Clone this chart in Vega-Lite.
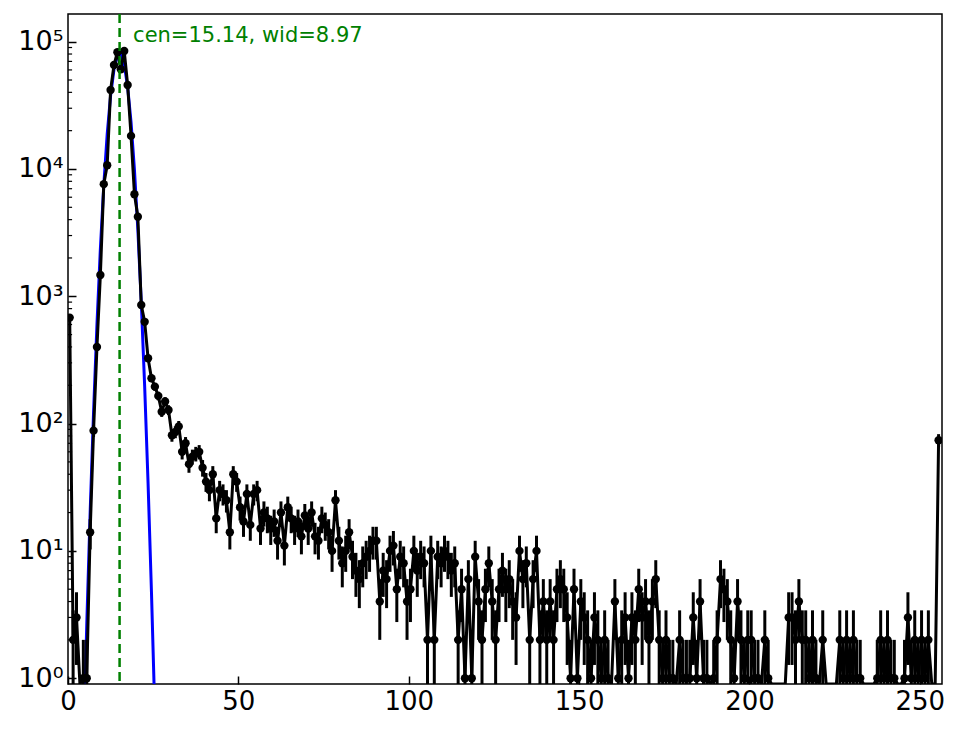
{
  "$schema": "https://vega.github.io/schema/vega-lite/v6.json",
  "width": 874,
  "height": 670,
  "autosize": "none",
  "padding": {"left": 68, "top": 14, "right": 22, "bottom": 45},
  "config": {
    "font": "DejaVu Sans",
    "view": {"stroke": "black", "strokeWidth": 1.5},
    "axis": {
      "grid": false,
      "domain": false,
      "tickSize": -8,
      "tickWidth": 1.5,
      "tickColor": "black",
      "labelColor": "black",
      "labelFontSize": 26,
      "labelFont": "DejaVu Sans",
      "labelFlush": false,
      "title": null
    },
    "axisX": {"labelPadding": 12},
    "axisY": {"labelPadding": 13, "labelFontSize": 27}
  },
  "datasets": {
    "hist": [
      {"x":0.5,"n":680,"lo":653.9,"hi":706.1},
      {"x":1.5,"n":2,"lo":0.59,"hi":3.41},
      {"x":2.5,"n":3,"lo":1.27,"hi":4.73},
      {"x":3.5,"n":0},
      {"x":4.5,"n":1,"lo":0,"hi":2},
      {"x":5.5,"n":1,"lo":0,"hi":2},
      {"x":6.5,"n":14,"lo":10.26,"hi":17.74},
      {"x":7.5,"n":88,"lo":78.62,"hi":97.38},
      {"x":8.5,"n":400,"lo":380,"hi":420},
      {"x":9.5,"n":1470,"lo":1431.66,"hi":1508.34},
      {"x":10.5,"n":7600,"lo":7512.8,"hi":7687.2},
      {"x":11.5,"n":10700,"lo":10596.6,"hi":10803.4},
      {"x":12.5,"n":41700,"lo":41495.8,"hi":41904.2},
      {"x":13.5,"n":65600,"lo":65343.9,"hi":65856.1},
      {"x":14.5,"n":82600,"lo":82312.6,"hi":82887.4},
      {"x":15.5,"n":60700,"lo":60453.6,"hi":60946.4},
      {"x":16.5,"n":84500,"lo":84209.3,"hi":84790.7},
      {"x":17.5,"n":45700,"lo":45486.2,"hi":45913.8},
      {"x":18.5,"n":18200,"lo":18065.1,"hi":18334.9},
      {"x":19.5,"n":6340,"lo":6260.4,"hi":6419.6},
      {"x":20.5,"n":4220,"lo":4155,"hi":4285},
      {"x":21.5,"n":855,"lo":825.76,"hi":884.24},
      {"x":22.5,"n":630,"lo":604.9,"hi":655.1},
      {"x":23.5,"n":326,"lo":307.94,"hi":344.06},
      {"x":24.5,"n":227,"lo":211.93,"hi":242.07},
      {"x":25.5,"n":195,"lo":181.04,"hi":208.96},
      {"x":26.5,"n":165,"lo":152.15,"hi":177.85},
      {"x":27.5,"n":124,"lo":112.86,"hi":135.14},
      {"x":28.5,"n":149,"lo":136.79,"hi":161.21},
      {"x":29.5,"n":128,"lo":116.69,"hi":139.31},
      {"x":30.5,"n":81,"lo":72,"hi":90},
      {"x":31.5,"n":86,"lo":76.73,"hi":95.27},
      {"x":32.5,"n":95,"lo":85.25,"hi":104.75},
      {"x":33.5,"n":60,"lo":52.25,"hi":67.75},
      {"x":34.5,"n":70,"lo":61.63,"hi":78.37},
      {"x":35.5,"n":48,"lo":41.07,"hi":54.93},
      {"x":36.5,"n":55,"lo":47.58,"hi":62.42},
      {"x":37.5,"n":58,"lo":50.38,"hi":65.62},
      {"x":38.5,"n":60,"lo":52.25,"hi":67.75},
      {"x":39.5,"n":45,"lo":38.29,"hi":51.71},
      {"x":40.5,"n":35,"lo":29.08,"hi":40.92},
      {"x":41.5,"n":30,"lo":24.52,"hi":35.48},
      {"x":42.5,"n":40,"lo":33.68,"hi":46.32},
      {"x":43.5,"n":18,"lo":13.76,"hi":22.24},
      {"x":44.5,"n":30,"lo":24.52,"hi":35.48},
      {"x":45.5,"n":28,"lo":22.71,"hi":33.29},
      {"x":46.5,"n":25,"lo":20,"hi":30},
      {"x":47.5,"n":14,"lo":10.26,"hi":17.74},
      {"x":48.5,"n":40,"lo":33.68,"hi":46.32},
      {"x":49.5,"n":35,"lo":29.08,"hi":40.92},
      {"x":50.5,"n":22,"lo":17.31,"hi":26.69},
      {"x":51.5,"n":17,"lo":12.88,"hi":21.12},
      {"x":52.5,"n":28,"lo":22.71,"hi":33.29},
      {"x":53.5,"n":16,"lo":12,"hi":20},
      {"x":54.5,"n":28,"lo":22.71,"hi":33.29},
      {"x":55.5,"n":30,"lo":24.52,"hi":35.48},
      {"x":56.5,"n":15,"lo":11.13,"hi":18.87},
      {"x":57.5,"n":20,"lo":15.53,"hi":24.47},
      {"x":58.5,"n":18,"lo":13.76,"hi":22.24},
      {"x":59.5,"n":15,"lo":11.13,"hi":18.87},
      {"x":60.5,"n":17,"lo":12.88,"hi":21.12},
      {"x":61.5,"n":12,"lo":8.54,"hi":15.46},
      {"x":62.5,"n":20,"lo":15.53,"hi":24.47},
      {"x":63.5,"n":11,"lo":7.68,"hi":14.32},
      {"x":64.5,"n":22,"lo":17.31,"hi":26.69},
      {"x":65.5,"n":18,"lo":13.76,"hi":22.24},
      {"x":66.5,"n":15,"lo":11.13,"hi":18.87},
      {"x":67.5,"n":17,"lo":12.88,"hi":21.12},
      {"x":68.5,"n":13,"lo":9.39,"hi":16.61},
      {"x":69.5,"n":19,"lo":14.64,"hi":23.36},
      {"x":70.5,"n":15,"lo":11.13,"hi":18.87},
      {"x":71.5,"n":20,"lo":15.53,"hi":24.47},
      {"x":72.5,"n":13,"lo":9.39,"hi":16.61},
      {"x":73.5,"n":12,"lo":8.54,"hi":15.46},
      {"x":74.5,"n":18,"lo":13.76,"hi":22.24},
      {"x":75.5,"n":16,"lo":12,"hi":20},
      {"x":76.5,"n":14,"lo":10.26,"hi":17.74},
      {"x":77.5,"n":10,"lo":6.84,"hi":13.16},
      {"x":78.5,"n":25,"lo":20,"hi":30},
      {"x":79.5,"n":12,"lo":8.54,"hi":15.46},
      {"x":80.5,"n":8,"lo":5.17,"hi":10.83},
      {"x":81.5,"n":10,"lo":6.84,"hi":13.16},
      {"x":82.5,"n":14,"lo":10.26,"hi":17.74},
      {"x":83.5,"n":9,"lo":6,"hi":12},
      {"x":84.5,"n":7,"lo":4.35,"hi":9.65},
      {"x":85.5,"n":6,"lo":3.55,"hi":8.45},
      {"x":86.5,"n":8,"lo":5.17,"hi":10.83},
      {"x":87.5,"n":9,"lo":6,"hi":12},
      {"x":88.5,"n":10,"lo":6.84,"hi":13.16},
      {"x":89.5,"n":12,"lo":8.54,"hi":15.46},
      {"x":90.5,"n":12,"lo":8.54,"hi":15.46},
      {"x":91.5,"n":4,"lo":2,"hi":6},
      {"x":92.5,"n":7,"lo":4.35,"hi":9.65},
      {"x":93.5,"n":6,"lo":3.55,"hi":8.45},
      {"x":94.5,"n":10,"lo":6.84,"hi":13.16},
      {"x":95.5,"n":11,"lo":7.68,"hi":14.32},
      {"x":96.5,"n":5,"lo":2.76,"hi":7.24},
      {"x":97.5,"n":9,"lo":6,"hi":12},
      {"x":98.5,"n":8,"lo":5.17,"hi":10.83},
      {"x":99.5,"n":4,"lo":2,"hi":6},
      {"x":100.5,"n":5,"lo":2.76,"hi":7.24},
      {"x":101.5,"n":10,"lo":6.84,"hi":13.16},
      {"x":102.5,"n":7,"lo":4.35,"hi":9.65},
      {"x":103.5,"n":9,"lo":6,"hi":12},
      {"x":104.5,"n":8,"lo":5.17,"hi":10.83},
      {"x":105.5,"n":2,"lo":0.59,"hi":3.41},
      {"x":106.5,"n":10,"lo":6.84,"hi":13.16},
      {"x":107.5,"n":2,"lo":0.59,"hi":3.41},
      {"x":108.5,"n":9,"lo":6,"hi":12},
      {"x":109.5,"n":8,"lo":5.17,"hi":10.83},
      {"x":110.5,"n":10,"lo":6.84,"hi":13.16},
      {"x":111.5,"n":9,"lo":6,"hi":12},
      {"x":112.5,"n":7,"lo":4.35,"hi":9.65},
      {"x":113.5,"n":8,"lo":5.17,"hi":10.83},
      {"x":114.5,"n":2,"lo":0.59,"hi":3.41},
      {"x":115.5,"n":5,"lo":2.76,"hi":7.24},
      {"x":116.5,"n":1,"lo":0,"hi":2},
      {"x":117.5,"n":6,"lo":3.55,"hi":8.45},
      {"x":118.5,"n":1,"lo":0,"hi":2},
      {"x":119.5,"n":9,"lo":6,"hi":12},
      {"x":120.5,"n":4,"lo":2,"hi":6},
      {"x":121.5,"n":2,"lo":0.59,"hi":3.41},
      {"x":122.5,"n":5,"lo":2.76,"hi":7.24},
      {"x":123.5,"n":8,"lo":5.17,"hi":10.83},
      {"x":124.5,"n":4,"lo":2,"hi":6},
      {"x":125.5,"n":2,"lo":0.59,"hi":3.41},
      {"x":126.5,"n":5,"lo":2.76,"hi":7.24},
      {"x":127.5,"n":7,"lo":4.35,"hi":9.65},
      {"x":128.5,"n":5,"lo":2.76,"hi":7.24},
      {"x":129.5,"n":6,"lo":3.55,"hi":8.45},
      {"x":130.5,"n":4,"lo":2,"hi":6},
      {"x":131.5,"n":3,"lo":1.27,"hi":4.73},
      {"x":132.5,"n":10,"lo":6.84,"hi":13.16},
      {"x":133.5,"n":6,"lo":3.55,"hi":8.45},
      {"x":134.5,"n":8,"lo":5.17,"hi":10.83},
      {"x":135.5,"n":2,"lo":0.59,"hi":3.41},
      {"x":136.5,"n":6,"lo":3.55,"hi":8.45},
      {"x":137.5,"n":10,"lo":6.84,"hi":13.16},
      {"x":138.5,"n":2,"lo":0.59,"hi":3.41},
      {"x":139.5,"n":4,"lo":2,"hi":6},
      {"x":140.5,"n":2,"lo":0.59,"hi":3.41},
      {"x":141.5,"n":4,"lo":2,"hi":6},
      {"x":142.5,"n":2,"lo":0.59,"hi":3.41},
      {"x":143.5,"n":5,"lo":2.76,"hi":7.24},
      {"x":144.5,"n":6,"lo":3.55,"hi":8.45},
      {"x":145.5,"n":5,"lo":2.76,"hi":7.24},
      {"x":146.5,"n":3,"lo":1.27,"hi":4.73},
      {"x":147.5,"n":1,"lo":0,"hi":2},
      {"x":148.5,"n":5,"lo":2.76,"hi":7.24},
      {"x":149.5,"n":1,"lo":0,"hi":2},
      {"x":150.5,"n":4,"lo":2,"hi":6},
      {"x":151.5,"n":3,"lo":1.27,"hi":4.73},
      {"x":152.5,"n":2,"lo":0.59,"hi":3.41},
      {"x":153.5,"n":1,"lo":0,"hi":2},
      {"x":154.5,"n":3,"lo":1.27,"hi":4.73},
      {"x":155.5,"n":2,"lo":0.59,"hi":3.41},
      {"x":156.5,"n":1,"lo":0,"hi":2},
      {"x":157.5,"n":2,"lo":0.59,"hi":3.41},
      {"x":158.5,"n":1,"lo":0,"hi":2},
      {"x":159.5,"n":0},
      {"x":160.5,"n":4,"lo":2,"hi":6},
      {"x":161.5,"n":1,"lo":0,"hi":2},
      {"x":162.5,"n":2,"lo":0.59,"hi":3.41},
      {"x":163.5,"n":3,"lo":1.27,"hi":4.73},
      {"x":164.5,"n":1,"lo":0,"hi":2},
      {"x":165.5,"n":3,"lo":1.27,"hi":4.73},
      {"x":166.5,"n":2,"lo":0.59,"hi":3.41},
      {"x":167.5,"n":5,"lo":2.76,"hi":7.24},
      {"x":168.5,"n":3,"lo":1.27,"hi":4.73},
      {"x":169.5,"n":4,"lo":2,"hi":6},
      {"x":170.5,"n":2,"lo":0.59,"hi":3.41},
      {"x":171.5,"n":4,"lo":2,"hi":6},
      {"x":172.5,"n":6,"lo":3.55,"hi":8.45},
      {"x":173.5,"n":2,"lo":0.59,"hi":3.41},
      {"x":174.5,"n":1,"lo":0,"hi":2},
      {"x":175.5,"n":2,"lo":0.59,"hi":3.41},
      {"x":176.5,"n":1,"lo":0,"hi":2},
      {"x":177.5,"n":1,"lo":0,"hi":2},
      {"x":178.5,"n":0},
      {"x":179.5,"n":2,"lo":0.59,"hi":3.41},
      {"x":180.5,"n":1,"lo":0,"hi":2},
      {"x":181.5,"n":1,"lo":0,"hi":2},
      {"x":182.5,"n":1,"lo":0,"hi":2},
      {"x":183.5,"n":3,"lo":1.27,"hi":4.73},
      {"x":184.5,"n":1,"lo":0,"hi":2},
      {"x":185.5,"n":4,"lo":2,"hi":6},
      {"x":186.5,"n":1,"lo":0,"hi":2},
      {"x":187.5,"n":1,"lo":0,"hi":2},
      {"x":188.5,"n":0},
      {"x":189.5,"n":1,"lo":0,"hi":2},
      {"x":190.5,"n":2,"lo":0.59,"hi":3.41},
      {"x":191.5,"n":6,"lo":3.55,"hi":8.45},
      {"x":192.5,"n":5,"lo":2.76,"hi":7.24},
      {"x":193.5,"n":4,"lo":2,"hi":6},
      {"x":194.5,"n":2,"lo":0.59,"hi":3.41},
      {"x":195.5,"n":1,"lo":0,"hi":2},
      {"x":196.5,"n":4,"lo":2,"hi":6},
      {"x":197.5,"n":2,"lo":0.59,"hi":3.41},
      {"x":198.5,"n":1,"lo":0,"hi":2},
      {"x":199.5,"n":2,"lo":0.59,"hi":3.41},
      {"x":200.5,"n":2,"lo":0.59,"hi":3.41},
      {"x":201.5,"n":1,"lo":0,"hi":2},
      {"x":202.5,"n":1,"lo":0,"hi":2},
      {"x":203.5,"n":0},
      {"x":204.5,"n":2,"lo":0.59,"hi":3.41},
      {"x":205.5,"n":1,"lo":0,"hi":2},
      {"x":206.5,"n":0},
      {"x":207.5,"n":0},
      {"x":208.5,"n":0},
      {"x":209.5,"n":0},
      {"x":210.5,"n":0},
      {"x":211.5,"n":3,"lo":1.27,"hi":4.73},
      {"x":212.5,"n":3,"lo":1.27,"hi":4.73},
      {"x":213.5,"n":2,"lo":0.59,"hi":3.41},
      {"x":214.5,"n":4,"lo":2,"hi":6},
      {"x":215.5,"n":2,"lo":0.59,"hi":3.41},
      {"x":216.5,"n":2,"lo":0.59,"hi":3.41},
      {"x":217.5,"n":1,"lo":0,"hi":2},
      {"x":218.5,"n":2,"lo":0.59,"hi":3.41},
      {"x":219.5,"n":1,"lo":0,"hi":2},
      {"x":220.5,"n":0},
      {"x":221.5,"n":2,"lo":0.59,"hi":3.41},
      {"x":222.5,"n":0},
      {"x":223.5,"n":0},
      {"x":224.5,"n":0},
      {"x":225.5,"n":0},
      {"x":226.5,"n":2,"lo":0.59,"hi":3.41},
      {"x":227.5,"n":1,"lo":0,"hi":2},
      {"x":228.5,"n":2,"lo":0.59,"hi":3.41},
      {"x":229.5,"n":1,"lo":0,"hi":2},
      {"x":230.5,"n":2,"lo":0.59,"hi":3.41},
      {"x":231.5,"n":1,"lo":0,"hi":2},
      {"x":232.5,"n":1,"lo":0,"hi":2},
      {"x":233.5,"n":0},
      {"x":234.5,"n":0},
      {"x":235.5,"n":0},
      {"x":236.5,"n":0},
      {"x":237.5,"n":1,"lo":0,"hi":2},
      {"x":238.5,"n":2,"lo":0.59,"hi":3.41},
      {"x":239.5,"n":1,"lo":0,"hi":2},
      {"x":240.5,"n":2,"lo":0.59,"hi":3.41},
      {"x":241.5,"n":1,"lo":0,"hi":2},
      {"x":242.5,"n":1,"lo":0,"hi":2},
      {"x":243.5,"n":0},
      {"x":244.5,"n":0},
      {"x":245.5,"n":1,"lo":0,"hi":2},
      {"x":246.5,"n":3,"lo":1.27,"hi":4.73},
      {"x":247.5,"n":1,"lo":0,"hi":2},
      {"x":248.5,"n":2,"lo":0.59,"hi":3.41},
      {"x":249.5,"n":1,"lo":0,"hi":2},
      {"x":250.5,"n":2,"lo":0.59,"hi":3.41},
      {"x":251.5,"n":1,"lo":0,"hi":2},
      {"x":252.5,"n":2,"lo":0.59,"hi":3.41},
      {"x":253.5,"n":0},
      {"x":254.5,"n":0},
      {"x":255.5,"n":74,"lo":65.4,"hi":82.6}
    ],
    "fit": [
      {"x":3.5,"fit":0.0226},
      {"x":4.5,"fit":0.271},
      {"x":5.5,"fit":2.6},
      {"x":6.5,"fit":19.96},
      {"x":7.5,"fit":122.4},
      {"x":8.5,"fit":601},
      {"x":9.5,"fit":2365},
      {"x":10.5,"fit":7439},
      {"x":11.5,"fit":18720},
      {"x":12.5,"fit":37700},
      {"x":13.5,"fit":60750},
      {"x":14.5,"fit":78340},
      {"x":15.5,"fit":80830},
      {"x":16.5,"fit":66720},
      {"x":17.5,"fit":44070},
      {"x":18.5,"fit":23290},
      {"x":19.5,"fit":9850},
      {"x":20.5,"fit":3333},
      {"x":21.5,"fit":901},
      {"x":22.5,"fit":195.4},
      {"x":23.5,"fit":33.9},
      {"x":24.5,"fit":4.7},
      {"x":25.5,"fit":0.521},
      {"x":26.5,"fit":0.0463}
    ],
    "minor": [
      {"v":2},{"v":3},{"v":4},{"v":5},{"v":6},{"v":7},{"v":8},{"v":9},
      {"v":20},{"v":30},{"v":40},{"v":50},{"v":60},{"v":70},{"v":80},{"v":90},
      {"v":200},{"v":300},{"v":400},{"v":500},{"v":600},{"v":700},{"v":800},{"v":900},
      {"v":2000},{"v":3000},{"v":4000},{"v":5000},{"v":6000},{"v":7000},{"v":8000},{"v":9000},
      {"v":20000},{"v":30000},{"v":40000},{"v":50000},{"v":60000},{"v":70000},{"v":80000},{"v":90000}
    ],
    "center": [{"cen":15.14,"label":"cen=15.14, wid=8.97"}]
  },
  "layer": [
    {
      "data": {"name": "fit"},
      "mark": {"type": "line", "color": "#0000ff", "strokeWidth": 3, "clip": true},
      "encoding": {
        "x": {"field": "x", "type": "quantitative", "scale": {"domain": [0, 256.5], "nice": false, "zero": false},
              "axis": {"values": [0, 50, 100, 150, 200, 250], "title": null, "labelFlush": false}},
        "y": {"field": "fit", "type": "quantitative", "scale": {"type": "log", "domain": [0.9, 165000], "nice": false}, "axis": null}
      }
    },
    {
      "layer": [
        {
          "data": {"name": "hist"},
          "mark": {"type": "line", "color": "black", "strokeWidth": 3, "clip": true, "invalid": "show"},
          "encoding": {
            "x": {"field": "x", "type": "quantitative", "scale": {"domain": [0, 256.5], "nice": false, "zero": false},
                  "axis": {"values": [0, 50, 100, 150, 200, 250], "title": null, "labelFlush": false}},
            "y": {"field": "n", "type": "quantitative",
                  "scale": {"type": "log", "domain": [0.9, 165000], "nice": false, "clamp": true},
                  "axis": {"values": [1, 10, 100, 1000, 10000, 100000], "title": null,
                           "labelExpr": "'10' + ['⁰','¹','²','³','⁴','⁵'][round(log(datum.value)/LN10)]"}}
          }
        },
        {
          "data": {"name": "hist"},
          "transform": [{"filter": "datum.n > 0"}],
          "mark": {"type": "rule", "color": "black", "strokeWidth": 3, "clip": true, "invalid": "show"},
          "encoding": {
            "x": {"field": "x", "type": "quantitative"},
            "y": {"field": "lo", "type": "quantitative"},
            "y2": {"field": "hi"}
          }
        },
        {
          "data": {"name": "hist"},
          "transform": [{"filter": "datum.n > 0"}],
          "mark": {"type": "point", "filled": true, "color": "black", "opacity": 1, "size": 70, "clip": true},
          "encoding": {
            "x": {"field": "x", "type": "quantitative"},
            "y": {"field": "n", "type": "quantitative"}
          }
        },
        {
          "data": {"name": "minor"},
          "mark": {"type": "rule", "color": "black", "strokeWidth": 1.2},
          "encoding": {
            "x": {"datum": 0},
            "x2": {"datum": 1.2},
            "y": {"field": "v", "type": "quantitative"}
          }
        },
        {
          "data": {"name": "center"},
          "mark": {"type": "rule", "color": "#008000", "strokeWidth": 2.5, "strokeDash": [9, 5]},
          "encoding": {
            "x": {"field": "cen", "type": "quantitative"}
          }
        },
        {
          "data": {"name": "center"},
          "mark": {"type": "text", "color": "#008000", "fontSize": 21, "align": "left", "baseline": "middle", "font": "DejaVu Sans"},
          "encoding": {
            "x": {"datum": 19.1},
            "y": {"datum": 111000},
            "text": {"field": "label"}
          }
        }
      ]
    }
  ],
  "resolve": {"scale": {"y": "independent"}}
}
